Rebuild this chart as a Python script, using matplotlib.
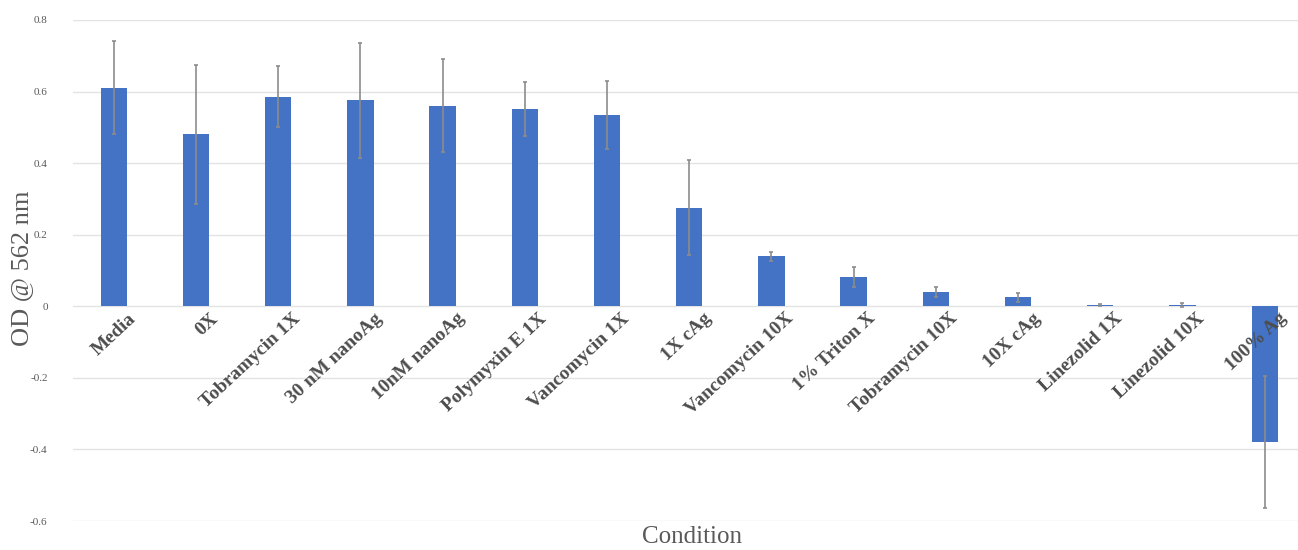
import matplotlib.pyplot as plt
import numpy as np

conditions = ["Media", "0X", "Tobramycin 1X", "30 nM nanoAg", "10nM nanoAg",
              "Polymyxin E 1X", "Vancomycin 1X", "1X cAg", "Vancomycin 10X",
              "1% Triton X", "Tobramycin 10X", "10X cAg", "Linezolid 1X",
              "Linezolid 10X", "100% Ag"]
od_means = [0.61, 0.48, 0.585, 0.575, 0.56, 0.552, 0.535, 0.276, 0.14,
            0.082, 0.04, 0.025, 0.003, 0.003, -0.38]
od_err = [0.13, 0.195, 0.085, 0.16, 0.13, 0.075, 0.095, 0.133, 0.013,
          0.028, 0.013, 0.013, 0.003, 0.005, 0.185]
yticks = [-0.6, -0.4, -0.2, 0, 0.2, 0.4, 0.6, 0.8]
ytick_labels = ["-0.6", "-0.4", "-0.2", "0", "0.2", "0.4", "0.6", "0.8"]

serif = ["Liberation Serif", "DejaVu Serif"]

fig = plt.figure(figsize=(12.98, 5.5), dpi=100)
ax = fig.add_axes([0.056, 0.0527, 0.95, 0.911])

x = np.arange(len(conditions))
ax.bar(x, od_means, width=0.32, color="#4472C4", zorder=2)
ax.errorbar(x, od_means, yerr=od_err, fmt="none", ecolor="#8c8c8c",
            elinewidth=1.2, capsize=1.5, capthick=1.2, zorder=3)

ax.set_ylim(-0.6, 0.8)
ax.set_xlim(-0.5, len(conditions) - 0.5)
ax.set_yticks(yticks)
ax.set_yticklabels(ytick_labels, fontfamily=serif, fontsize=8, color="#595959")
ax.set_xticks([])
ax.tick_params(axis="y", length=0, pad=18)
ax.grid(axis="y", color="#e3e3e3", linewidth=1, zorder=0)
for s in ax.spines.values():
    s.set_visible(False)

# category labels sit just under the zero line, rotated
for i, lab in enumerate(conditions):
    ax.text(i + 0.17, -0.01, lab, rotation=43, ha="right", va="top",
            rotation_mode="anchor", fontfamily=serif, fontweight="bold",
            fontsize=14, color="#4d4d4d", zorder=4)

fig.text(0.017, 0.512, "OD @ 562 nm", rotation=90, ha="center", va="center",
         fontfamily=serif, fontsize=19, color="#595959")
fig.text(0.533, 0.003, "Condition", ha="center", va="bottom",
         fontfamily=serif, fontsize=18, color="#595959")

fig.savefig("out.png", dpi=100)
